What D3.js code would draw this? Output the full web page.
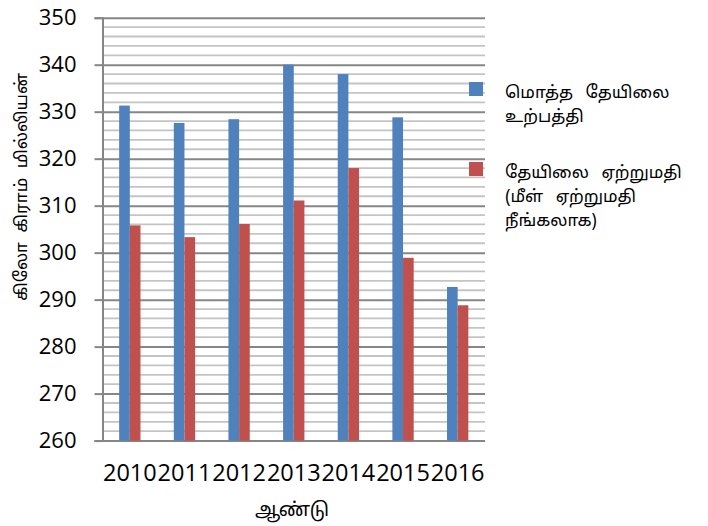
<!DOCTYPE html>
<html>
<head>
<meta charset="utf-8">
<script src="https://cdn.jsdelivr.net/npm/d3@7"></script>
<style>
  body { margin: 0; background: #fff; }
  text { font-family: "Open Sans", sans-serif; fill: #000; }
  .ta { font-family: "Noto Sans Tamil", Latha, "Noto Sans", sans-serif; }
</style>
</head>
<body>
<svg id="s1" width="708" height="526"></svg>
<script>
/*************************Data********************* */
const years = ["2010", "2011", "2012", "2013", "2014", "2015", "2016"];
const production = [331.3, 327.6, 328.4, 340.0, 338.0, 328.8, 292.7];
const exports = [305.8, 303.3, 306.1, 311.1, 318.0, 298.9, 288.8];
const seriesNames = [
  ["மொத்த தேயிலை", "உற்பத்தி"],
  ["தேயிலை ஏற்றுமதி", "(மீள் ஏற்றுமதி", "நீங்கலாக)"],
];
const seriesColors = ["#4f81bd", "#c0504d"];
const yTicks = [260, 270, 280, 290, 300, 310, 320, 330, 340, 350];

/*************************Scales********************* */
const plotLeft = 102.5, plotRight = 485, plotTop = 17.7, plotBottom = 440.6;
const svg = d3.select("svg#s1");

const scaleX = d3.scaleBand().domain(years).range([plotLeft, plotRight]);
const scaleY = d3.scaleLinear().domain([260, 350]).range([plotBottom, plotTop]);
const groupW = scaleX.bandwidth() * 0.39;
const scaleSub = d3.scaleBand().domain([0, 1]).range([0, groupW]);

// minor grid every 2, major every 10
const minor = d3.range(262, 350, 2).filter((d) => d % 10 !== 0);
svg.append("g").selectAll("line").data(minor).join("line")
  .attr("x1", plotLeft).attr("x2", plotRight)
  .attr("y1", (d) => scaleY(d)).attr("y2", (d) => scaleY(d))
  .attr("stroke", "#c4c4c4").attr("stroke-width", 1.8);

const yAxis = d3.axisLeft(scaleY).tickValues(yTicks).tickSize(8).tickPadding(18);
const ya = svg.append("g").attr("class", "y-axis")
  .attr("transform", `translate(${plotLeft},0)`).call(yAxis);
ya.select(".domain").attr("stroke", "#868686").attr("stroke-width", 2);
ya.selectAll(".tick line").attr("stroke", "#868686").attr("stroke-width", 2)
  .clone().attr("x1", 0).attr("x2", plotRight - plotLeft);
ya.selectAll(".tick text").attr("font-size", 22).attr("font-family", "Open Sans");

/*************************Bars********************* */
const data = years.map((y, i) => ({ year: y, vals: [production[i], exports[i]] }));
const groups = svg.append("g").selectAll("g").data(data).join("g")
  .attr("transform", (d) => `translate(${scaleX(d.year) + (scaleX.bandwidth() - groupW) / 2},0)`);
groups.selectAll("rect").data((d) => d.vals).join("rect")
  .attr("x", (_, i) => scaleSub(i))
  .attr("width", scaleSub.bandwidth())
  .attr("y", (d) => scaleY(d))
  .attr("height", (d) => plotBottom - scaleY(d))
  .attr("fill", (_, i) => seriesColors[i]);

// x labels
const xAxis = d3.axisBottom(scaleX).tickSize(0).tickPadding(24);
const xa = svg.append("g").attr("transform", `translate(0,${plotBottom})`).call(xAxis);
xa.select(".domain").remove();
xa.selectAll(".tick text").attr("font-size", 23.5).attr("font-family", "Open Sans");

/*************************Titles********************* */
svg.append("text").attr("class", "ta")
  .attr("transform", "translate(27,187) rotate(-90)")
  .attr("text-anchor", "middle").attr("font-size", 17).attr("word-spacing", 5)
  .text("கிலோ கிராம் மில்லியன்");
svg.append("text").attr("class", "ta")
  .attr("x", 292).attr("y", 516)
  .attr("text-anchor", "middle").attr("font-size", 19)
  .text("ஆண்டு");

/*************************Legend********************* */
const legendTop = [82, 162];
const lg = svg.append("g").selectAll("g").data(seriesNames).join("g")
  .attr("transform", (_, i) => `translate(469,${legendTop[i]})`);
lg.append("rect").attr("width", 14).attr("height", 14)
  .attr("fill", (_, i) => seriesColors[i]);
lg.each(function (lines) {
  d3.select(this).selectAll("text").data(lines).join("text")
    .attr("class", "ta")
    .attr("x", 36).attr("y", (_, j) => 16 + j * 24)
    .attr("font-size", 17).attr("word-spacing", 8)
    .text((d) => d);
});
</script>
</body>
</html>
